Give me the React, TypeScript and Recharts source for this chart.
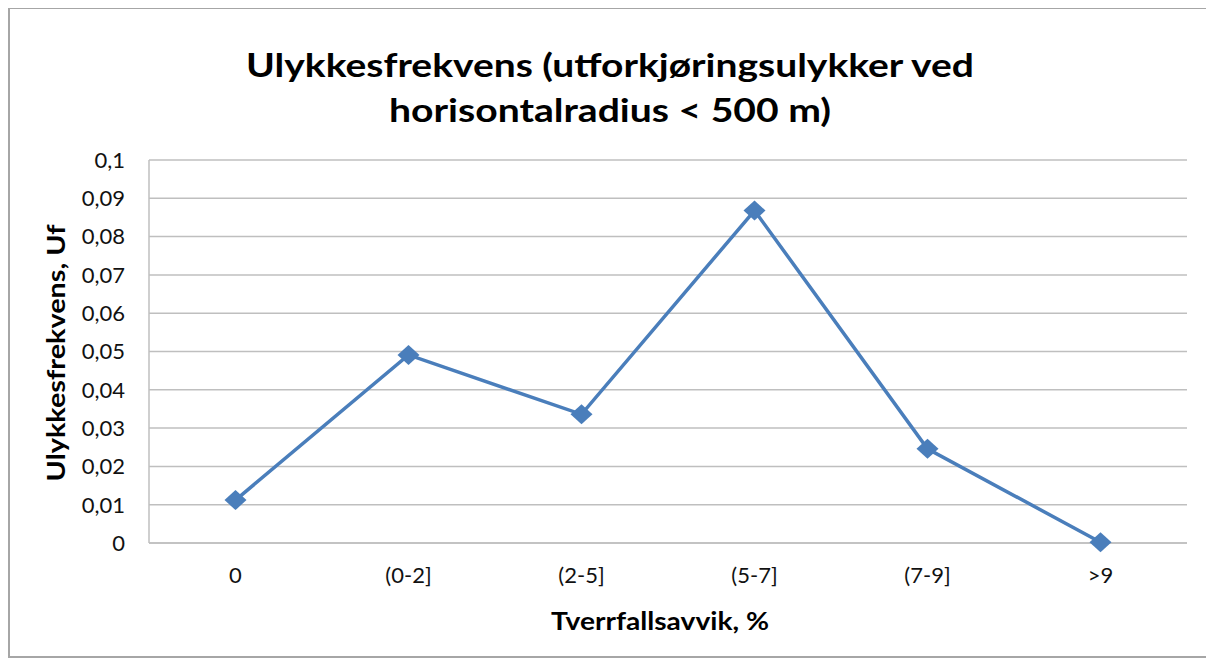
import { LineChart, Line, XAxis, YAxis, CartesianGrid } from 'recharts'

const categories = ['0', '(0-2]', '(2-5]', '(5-7]', '(7-9]', '>9']
const frequency = [0.0112, 0.0491, 0.0336, 0.0868, 0.0246, 0.0002]
const yTicks = [0, 0.01, 0.02, 0.03, 0.04, 0.05, 0.06, 0.07, 0.08, 0.09, 0.1]

const data = categories.map((c, i) => ({ name: c, uf: frequency[i] }))

const FONT = 'Lato, "Open Sans", sans-serif'
const BLUE = '#4a7ebb'
const GRID = '#bfbfbf'

const fmt = (v: number) => String(v).replace('.', ',')

const Diamond = (props: any) => {
  const { cx, cy, index } = props
  if (cx == null || cy == null) return null
  return <polygon key={index} points={`${cx},${cy - 10} ${cx + 11},${cy} ${cx},${cy + 10} ${cx - 11},${cy}`} fill={BLUE} />
}

export default function App() {
  return (
    <div style={{ position: 'relative', width: 1206, height: 652 }}>
      <LineChart width={1206} height={652} data={data} margin={{ top: 152, right: 27, bottom: 77, left: 61 }}>
        <CartesianGrid vertical={false} stroke={GRID} strokeWidth={1.5} />
        <XAxis
          dataKey="name"
          padding={{ left: 86.5, right: 86.5 }}
          height={40}
          axisLine={{ stroke: GRID, strokeWidth: 1.5 }}
          tickLine={false}
          tickSize={6}
          tickMargin={18}
          tick={{ fontSize: 22, fill: '#111', fontFamily: FONT }}
          interval={0}
        />
        <YAxis
          domain={[0, 0.1]}
          ticks={yTicks}
          tickFormatter={fmt}
          width={80}
          axisLine={{ stroke: GRID, strokeWidth: 1.5 }}
          tickLine={false}
          tickSize={6}
          tickMargin={18}
          tick={{ fontSize: 22, fill: '#111', fontFamily: FONT }}
          interval={0}
        />
        <Line
          dataKey="uf"
          stroke={BLUE}
          strokeWidth={3.5}
          dot={<Diamond />}
          activeDot={false}
          isAnimationActive={false}
        />
      </LineChart>
      <svg width={1206} height={652} style={{ position: 'absolute', left: 0, top: 0, pointerEvents: 'none' }}>
        <rect x={1} y={0} width={1203} height={649} fill="none" stroke="#a6a6a6" strokeWidth={2} />
        <g fontFamily={FONT} fontWeight="bold" fill="#000" textAnchor="middle">
          <text x={602} y={69} fontSize={33} textLength={728} lengthAdjust="spacingAndGlyphs">
            Ulykkesfrekvens (utforkjøringsulykker ved
          </text>
          <text x={602} y={114} fontSize={33} textLength={442} lengthAdjust="spacingAndGlyphs">
            horisontalradius &lt; 500 m)
          </text>
          <text x={652} y={622} fontSize={25} textLength={218} lengthAdjust="spacingAndGlyphs">
            Tverrfallsavvik, %
          </text>
          <text x={57} y={345} fontSize={24} transform="rotate(-90 57 345)" textLength={257} lengthAdjust="spacingAndGlyphs">
            Ulykkesfrekvens, Uf
          </text>
        </g>
      </svg>
    </div>
  )
}
